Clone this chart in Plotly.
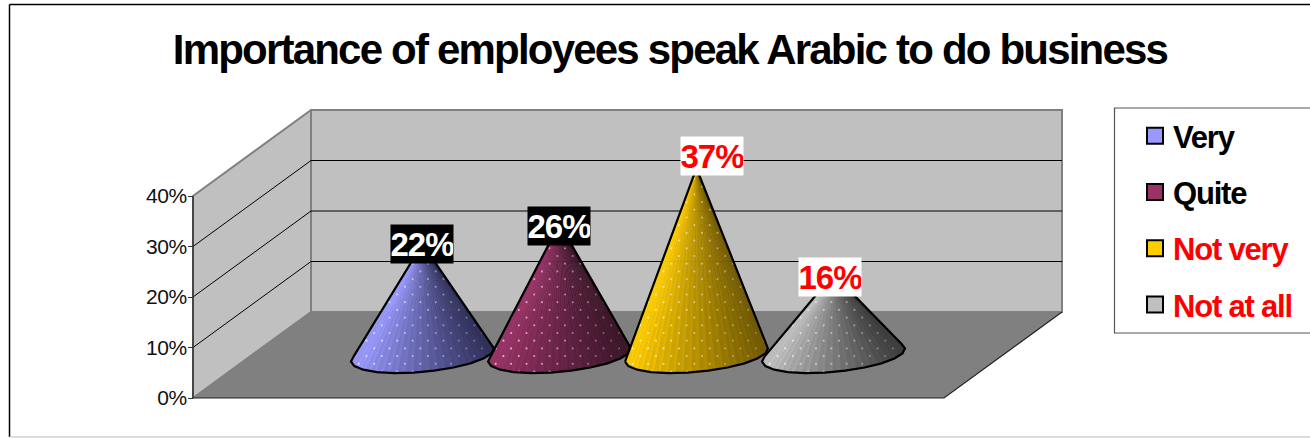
import numpy as np
import plotly.graph_objects as go

# ---- data ----
title_text = "Importance of employees speak Arabic to do business"
categories = ["Very", "Quite", "Not very", "Not at all"]
values = [22, 26, 37, 16]
tick_values = [0, 10, 20, 30, 40]
tick_labels = ["0%", "10%", "20%", "30%", "40%"]

# ---- styles ----
light = ["#9999FF", "#993366", "#FFCC00", "#C0C0C0"]
dark = ["#2E2E58", "#3A1528", "#705800", "#3A3A3A"]
legend_text = ["#000000", "#000000", "#FF0000", "#FF0000"]
label_bg = ["#000000", "#000000", "#FFFFFF", "#FFFFFF"]
label_fg = ["#FFFFFF", "#FFFFFF", "#FF0000", "#FF0000"]
label_shift = [(0, 0), (0, -2), (16, 12), (-3, -3)]

W, H = 1310, 438
X0, Y0 = 193.0, 398.0         # pixel of the front-left floor corner
PX_CAT = 187.75               # px per x-unit (4 units wide)
PX_VAL = 5.05                 # px per percentage point
DEPTH_X = 118 / PX_CAT        # oblique offset of the back wall
DEPTH_Y = 86 / PX_VAL
FIRST, STEP = 0.908, 0.7297   # cone spacing along the floor
R, DR = 0.357, 0.21           # base radius (width, depth)
N = 22
SUB = 5


def project(c, v, d):
    return c + DEPTH_X * d, v + DEPTH_Y * d


def hex_rgb(h):
    return np.array([int(h[i:i + 2], 16) for i in (1, 3, 5)], dtype=float)


fig = go.Figure()


def poly(points, fill, line=None, width=0):
    xs, ys = zip(*points)
    fig.add_trace(go.Scatter(
        x=list(xs), y=list(ys), mode="lines", fill="toself" if fill else None,
        fillcolor=fill, line=dict(color=line or "rgba(0,0,0,0)", width=width),
        showlegend=False, hoverinfo="skip"))


top = tick_values[-1]
# walls and floor
poly([project(0, 0, 0), project(0, top, 0), project(0, top, 1), project(0, 0, 1), project(0, 0, 0)],
     "#C0C0C0", "#808080", 2)
poly([project(0, 0, 1), project(0, top, 1), project(4, top, 1), project(4, 0, 1), project(0, 0, 1)],
     "#C0C0C0", "#808080", 2)
poly([project(0, 0, 0), project(0, 0, 1), project(4, 0, 1), project(4, 0, 0), project(0, 0, 0)],
     "#808080", None, 0)
# grid lines
for v in tick_values[1:-1]:
    poly([project(0, v, 0), project(0, v, 1), project(4, v, 1)], None, "#000000", 1)
# axis edges
poly([project(0, 0, 0), project(0, top, 0)], None, "#333333", 1.5)
poly([project(0, 0, 0), project(4, 0, 0), project(4, 0, 1)], None, "#222222", 1.2)

# cones
for i, v in enumerate(values):
    c = FIRST + STEP * i
    th = np.linspace(0, 2 * np.pi, N, endpoint=False) + 0.09
    bx = c + R * np.cos(th) + DEPTH_X * (0.5 + DR * np.sin(th))
    by = DEPTH_Y * (0.5 + DR * np.sin(th))
    ax, ay = project(c, v, 0.5)
    # silhouette: tangents from the apex, then the front arc
    ang = np.arctan2((ax - bx) * PX_CAT, (ay - by) * PX_VAL)
    il, ir = int(np.argmax(ang)), int(np.argmin(ang))
    idx = [il]
    while idx[-1] != ir:
        idx.append((idx[-1] + 1) % N)
    arc = [(bx[k], by[k]) for k in idx]
    xl, xr = bx.min(), bx.max()
    cl, cd = hex_rgb(light[i]), hex_rgb(dark[i])
    for j in range(len(arc) - 1):
        for sub in range(SUB):
            f0, f1 = sub / SUB, (sub + 1) / SUB
            p0 = (arc[j][0] + (arc[j + 1][0] - arc[j][0]) * f0, arc[j][1] + (arc[j + 1][1] - arc[j][1]) * f0)
            p1 = (arc[j][0] + (arc[j + 1][0] - arc[j][0]) * f1, arc[j][1] + (arc[j + 1][1] - arc[j][1]) * f1)
            t = ((p0[0] + p1[0]) / 2 - xl) / (xr - xl)
            t = float(np.clip(t * 1.05 - 0.05, 0, 1)) ** 0.9
            col = (cl + (cd - cl) * t) * (1.03 if (j * SUB + sub) % 2 else 0.98)
            col = np.clip(col, 0, 255).astype(int)
            rgb = f"rgb({col[0]},{col[1]},{col[2]})"
            poly([(ax, ay), p0, p1, (ax, ay)], rgb, rgb, 0.5)
    # printed dot pattern
    outline = arc + [(ax, ay)]
    ox = np.array([p[0] for p in outline])
    oy = np.array([p[1] for p in outline])
    dx_, dy_ = 15.4 / PX_CAT, 7.7 / PX_VAL
    dot_x, dot_y, dot_c = [], [], []
    for r, gy in enumerate(np.arange(by.min() + 0.3, ay, dy_)):
        off = dx_ / 2 if r % 2 else 0
        for gx in np.arange(xl - dx_ + off, xr + dx_, dx_):
            inside = False
            for k in range(len(ox)):
                x1, y1, x2, y2 = ox[k], oy[k], ox[(k + 1) % len(ox)], oy[(k + 1) % len(ox)]
                if (y1 > gy) != (y2 > gy) and gx < x1 + (gy - y1) * (x2 - x1) / (y2 - y1):
                    inside = not inside
            if inside:
                a = 0.7 - 0.5 * (gx - xl) / (xr - xl)
                dot_x.append(gx)
                dot_y.append(gy)
                dot_c.append(f"rgba(255,255,255,{a:.2f})")
    fig.add_trace(go.Scatter(x=dot_x, y=dot_y, mode="markers",
                             marker=dict(size=2.2, color=dot_c, line=dict(width=0)),
                             showlegend=False, hoverinfo="skip"))
    poly(outline + [outline[0]], None, "#000000", 2.2)
    # data label
    fig.add_annotation(x=ax, y=ay, text=f"<b>{v}%</b>", showarrow=False,
                       xshift=label_shift[i][0], yshift=label_shift[i][1],
                       width=62, height=38, bgcolor=label_bg[i], borderpad=0,
                       font=dict(family="Liberation Sans", size=33, color=label_fg[i]),
                       xanchor="center", yanchor="middle", align="center", valign="middle")

# legend entries
for i, name in enumerate(categories):
    fig.add_trace(go.Scatter(
        x=[None], y=[None], mode="markers", legendgroup=name,
        name=f'<b><span style="color:{legend_text[i]}">{name}</span></b>',
        marker=dict(symbol="square", size=16, color=light[i], line=dict(color="#000000", width=2)),
        hoverinfo="skip"))

frame = [
    dict(type="line", xref="paper", yref="paper", x0=9.5 / W, x1=1, y0=1 - 4.5 / H, y1=1 - 4.5 / H,
         line=dict(color="#000000", width=1.5)),
    dict(type="line", xref="paper", yref="paper", x0=9.5 / W, x1=9.5 / W, y0=1 - 4.5 / H, y1=1 - 437 / H,
         line=dict(color="#000000", width=1.5)),
    dict(type="line", xref="paper", yref="paper", x0=9.5 / W, x1=1, y0=1 - 437 / H, y1=1 - 437 / H,
         line=dict(color="#D0D0D0", width=1.5)),
    dict(type="rect", xref="paper", yref="paper", x0=1114.5 / W, x1=1.01, y0=1 - 333 / H, y1=1 - 108 / H,
         line=dict(color="#555555", width=1.2), fillcolor="#FFFFFF", layer="below"),
]

fig.update_layout(
    width=W, height=H, autosize=False,
    margin=dict(l=0, r=0, t=0, b=0),
    paper_bgcolor="#FFFFFF", plot_bgcolor="rgba(0,0,0,0)",
    font=dict(family="Liberation Sans", color="#000000"),
    title=dict(text=f"<b>{title_text}</b>", x=670 / W, y=1 - 49 / H, xref="paper", yref="paper",
               xanchor="center", yanchor="middle", font=dict(family="Liberation Sans", size=42, color="#000000")),
    xaxis=dict(visible=False, domain=[0, 1], fixedrange=True,
               range=[-X0 / PX_CAT, (W - X0) / PX_CAT]),
    yaxis=dict(anchor="free", position=X0 / W, domain=[0, 1], fixedrange=True,
               range=[(Y0 - H) / PX_VAL, Y0 / PX_VAL],
               tickmode="array", tickvals=tick_values, ticktext=tick_labels,
               ticks="outside", ticklen=5, tickwidth=1.2, tickcolor="#333333",
               ticklabelstandoff=-3,
               showgrid=False, zeroline=False, showline=False,
               tickfont=dict(family="Liberation Sans", size=21, color="#111111")),
    legend=dict(x=1133 / W, y=1 - 109 / H, xanchor="left", yanchor="top",
                traceorder="grouped", tracegroupgap=13, bgcolor="rgba(0,0,0,0)", borderwidth=0,
                font=dict(family="Liberation Sans", size=31), itemclick=False, itemdoubleclick=False),
    shapes=frame,
    hovermode=False,
)

css = ("body{margin:0;overflow:hidden}"
       ".gtitle{letter-spacing:-1.8px}"
       ".legendtext{letter-spacing:-1.2px}"
       ".legendsymbols{transform:translate(2px,0)}"
       ".annotation-text{letter-spacing:-1px}"
       ".ytick text{letter-spacing:-0.4px}")
post = ("var s=document.createElement('style');s.textContent=" + repr(css) + ";document.head.appendChild(s);")
fig.write_html("out.html", config=dict(displayModeBar=False), post_script=post)
